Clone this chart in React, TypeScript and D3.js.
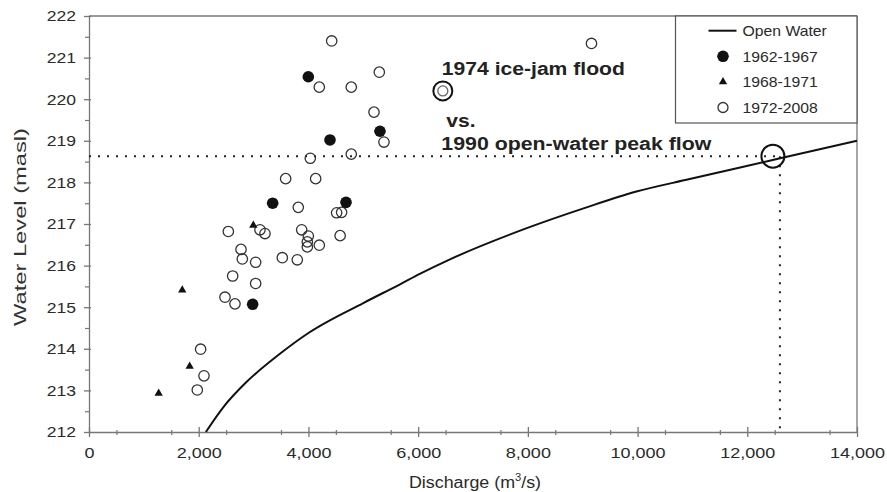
import React, { useEffect, useRef } from 'react';
import * as d3 from 'd3';

const W = 887;
const H = 492;

// open-water rating curve: discharge (m3/s) and water level (masl)
const openWaterQ = [2130, 2450, 2870, 3480, 4000, 5000, 5670, 6030, 6580, 7980, 9070, 9980, 10950, 11870, 12600, 14000];
const openWaterH = [212.0, 212.6, 213.2, 213.88, 214.38, 215.1, 215.55, 215.8, 216.15, 216.9, 217.4, 217.78, 218.08, 218.36, 218.58, 219.0];

// observed ice-jam levels
const obs6267Q = [3998, 4393, 5304, 3348, 4685, 2983];
const obs6267H = [220.54, 219.02, 219.23, 217.5, 217.52, 215.07];

const obs6871Q = [1270, 1700, 1835, 2995];
const obs6871H = [212.93, 215.41, 213.58, 216.97];

const obs7208Q = [
  4424, 5292, 4198, 4781, 5195, 5377, 4781, 4034, 3585, 4132, 3815, 4514, 4605, 2540, 3117, 3208, 3877, 3998,
  3980, 3980, 4198, 4578, 2771, 2795, 3038, 3524, 3797, 2619, 3038, 2479, 2661, 2035, 2096, 1974, 9160
];
const obs7208H = [
  221.4, 220.65, 220.29, 220.29, 219.69, 218.97, 218.68, 218.58, 218.09, 218.09, 217.4, 217.27, 217.28, 216.82,
  216.86, 216.77, 216.86, 216.71, 216.57, 216.45, 216.49, 216.72, 216.39, 216.16, 216.08, 216.19, 216.14, 215.75,
  215.57, 215.24, 215.08, 213.99, 213.35, 213.01, 221.34
];

const iceJam1974 = { q: 6450, h: 220.2 };
const peak1990 = { q: 12540, h: 218.63 };

const xTicks = [0, 2000, 4000, 6000, 8000, 10000, 12000, 14000];
const xMinor = d3.range(500, 14000, 1000);
const yTicks = [212, 213, 214, 215, 216, 217, 218, 219, 220, 221, 222];
const yMinor = d3.range(212.5, 222, 1);

const legendLabels = ['Open Water', '1962-1967', '1968-1971', '1972-2008'];

// stretch text horizontally so glyph widths match the wide original font
function stretch(sel: any, k: number) {
  sel.each(function (this: SVGTextElement) {
    const len = this.getComputedTextLength();
    this.setAttribute('textLength', String(len * k));
    this.setAttribute('lengthAdjust', 'spacingAndGlyphs');
  });
}

export default function App() {
  const ref = useRef<SVGSVGElement>(null);

  useEffect(() => {
    const svg = d3.select(ref.current);
    svg.selectAll('*').remove();

    const axisColor = '#777';
    const textColor = '#2a2a2a';

    const x = d3.scaleLinear().domain([0, 14000]).range([89, 857]);
    const y = d3.scaleLinear().domain([212, 222]).range([432, 16]);

    // frame (top + right)
    svg.append('line').attr('x1', x(0)).attr('x2', x(14000)).attr('y1', y(222)).attr('y2', y(222))
      .attr('stroke', axisColor).attr('stroke-width', 1.3);
    svg.append('line').attr('x1', x(14000)).attr('x2', x(14000)).attr('y1', y(222)).attr('y2', y(212))
      .attr('stroke', axisColor).attr('stroke-width', 1.3);

    // X axis
    const gxMinor = svg.append('g').attr('transform', `translate(0,${y(212)})`)
      .call(d3.axisBottom(x).tickValues(xMinor).tickSize(3).tickSizeOuter(0).tickFormat(() => ''));
    gxMinor.select('.domain').remove();
    gxMinor.selectAll('.tick line').attr('y1', -2).attr('stroke', axisColor).attr('stroke-width', 1.2);

    const gx = svg.append('g').attr('transform', `translate(0,${y(212)})`)
      .call(d3.axisBottom(x).tickValues(xTicks).tickSize(5).tickSizeOuter(0).tickPadding(10)
        .tickFormat((d: any) => d3.format(',')(d)));
    gx.select('.domain').attr('stroke', axisColor).attr('stroke-width', 1.3);
    gx.selectAll('.tick line').attr('y1', -5).attr('stroke', axisColor).attr('stroke-width', 1.3);
    const gxText = gx.selectAll('.tick text').attr('font-size', 15).attr('font-family', 'Arial, "Liberation Sans", sans-serif')
      .attr('fill', textColor);
    stretch(gxText, 1.2);

    // Y axis
    const gyMinor = svg.append('g').attr('transform', `translate(${x(0)},0)`)
      .call(d3.axisLeft(y).tickValues(yMinor).tickSize(4).tickSizeOuter(0).tickFormat(() => ''));
    gyMinor.select('.domain').remove();
    gyMinor.selectAll('.tick line').attr('stroke', axisColor).attr('stroke-width', 1.2);

    const gy = svg.append('g').attr('transform', `translate(${x(0)},0)`)
      .call(d3.axisLeft(y).tickValues(yTicks).tickSize(5).tickSizeOuter(0).tickPadding(8));
    gy.select('.domain').attr('stroke', axisColor).attr('stroke-width', 1.3);
    gy.selectAll('.tick line').attr('x1', 2).attr('stroke', axisColor).attr('stroke-width', 1.3);
    const gyText = gy.selectAll('.tick text').attr('font-size', 15).attr('font-family', 'Arial, "Liberation Sans", sans-serif')
      .attr('fill', textColor);
    stretch(gyText, 1.17);

    // axis titles
    svg.append('text')
      .attr('transform', `translate(26,${(y(212) + y(222)) / 2 + 3}) rotate(-90)`)
      .attr('text-anchor', 'middle').attr('font-size', 17).attr('fill', '#333')
      .attr('textLength', 198).attr('lengthAdjust', 'spacingAndGlyphs')
      .text('Water Level (masl)');

    const xt = svg.append('text')
      .attr('x', (x(0) + x(14000)) / 2 + 2).attr('y', 488)
      .attr('text-anchor', 'middle').attr('font-size', 16).attr('fill', textColor)
      .attr('textLength', 132).attr('lengthAdjust', 'spacingAndGlyphs');
    xt.append('tspan').text('Discharge (m');
    xt.append('tspan').attr('font-size', 10).attr('dy', -7).text('3');
    xt.append('tspan').attr('dy', 7).text('/s)');

    // dotted reference lines for the 1990 peak
    svg.append('line')
      .attr('x1', x(0)).attr('x2', x(peak1990.q)).attr('y1', y(peak1990.h)).attr('y2', y(peak1990.h))
      .attr('stroke', '#222').attr('stroke-width', 2).attr('stroke-dasharray', '2 7');
    svg.append('line')
      .attr('x1', x(peak1990.q) + 3).attr('x2', x(peak1990.q) + 3).attr('y1', y(peak1990.h)).attr('y2', y(212))
      .attr('stroke', '#222').attr('stroke-width', 2).attr('stroke-dasharray', '2 7');

    // open-water curve
    const curve = d3.line<number>()
      .x((_, i) => x(openWaterQ[i]))
      .y((d) => y(d))
      .curve(d3.curveMonotoneX);
    svg.append('path').attr('d', curve(openWaterH))
      .attr('fill', 'none').attr('stroke', '#111').attr('stroke-width', 2);

    // 1972-2008 open circles
    svg.append('g').selectAll('circle').data(obs7208H).join('circle')
      .attr('cx', (_, i) => x(obs7208Q[i])).attr('cy', (d) => y(d)).attr('r', 5.2)
      .attr('fill', 'none').attr('stroke', '#333').attr('stroke-width', 1.3);

    // 1962-1967 filled circles
    svg.append('g').selectAll('circle').data(obs6267H).join('circle')
      .attr('cx', (_, i) => x(obs6267Q[i])).attr('cy', (d) => y(d)).attr('r', 5.8)
      .attr('fill', '#111');

    // 1968-1971 triangles
    const tri = d3.symbol(d3.symbolTriangle, 30);
    svg.append('g').selectAll('path').data(obs6871H).join('path')
      .attr('transform', (d, i) => `translate(${x(obs6871Q[i])},${y(d)})`)
      .attr('d', tri()).attr('fill', '#111');

    // highlighted events
    const ijx = x(iceJam1974.q);
    const ijy = y(iceJam1974.h);
    svg.append('circle').attr('cx', ijx).attr('cy', ijy).attr('r', 9.5)
      .attr('fill', 'none').attr('stroke', '#111').attr('stroke-width', 2);
    svg.append('circle').attr('cx', ijx).attr('cy', ijy).attr('r', 5)
      .attr('fill', 'none').attr('stroke', '#666').attr('stroke-width', 1.3);

    svg.append('circle').attr('cx', x(peak1990.q) - 4).attr('cy', y(peak1990.h)).attr('r', 11.5)
      .attr('fill', 'none').attr('stroke', '#111').attr('stroke-width', 2);

    // annotation text
    const note = svg.append('g').attr('font-weight', 'bold').attr('font-size', 18).attr('fill', '#222');
    note.append('text').attr('x', ijx - 1).attr('y', ijy - 16)
      .attr('textLength', 183).attr('lengthAdjust', 'spacingAndGlyphs').text('1974 ice-jam flood');
    const vs = note.append('text').attr('x', ijx + 3.5).attr('y', ijy + 36.5).text('vs.');
    stretch(vs, 1.17);
    note.append('text').attr('x', ijx - 1.5).attr('y', ijy + 59)
      .attr('textLength', 270).attr('lengthAdjust', 'spacingAndGlyphs').text('1990 open-water peak flow');

    // legend
    const lx = 675.5;
    const ly = y(222);
    const lg = svg.append('g');
    lg.append('rect').attr('x', lx).attr('y', ly).attr('width', x(14000) - lx).attr('height', 107)
      .attr('fill', '#fff').attr('stroke', '#555').attr('stroke-width', 1.2);
    const rowY = (i: number) => ly + 14.7 + i * 25.6;
    lg.append('line').attr('x1', lx + 33).attr('x2', lx + 61).attr('y1', rowY(0)).attr('y2', rowY(0))
      .attr('stroke', '#111').attr('stroke-width', 2);
    lg.append('circle').attr('cx', lx + 47.5).attr('cy', rowY(1)).attr('r', 5.8).attr('fill', '#111');
    lg.append('path').attr('transform', `translate(${lx + 47.5},${rowY(2)})`).attr('d', tri()).attr('fill', '#111');
    lg.append('circle').attr('cx', lx + 47.5).attr('cy', rowY(3)).attr('r', 5).attr('fill', 'none')
      .attr('stroke', '#333').attr('stroke-width', 1.3);
    const lt = lg.selectAll('text.lab').data(legendLabels).join('text')
      .attr('class', 'lab')
      .attr('x', lx + 67).attr('y', (_, i) => rowY(i)).attr('dy', '0.36em')
      .attr('font-size', 15).attr('fill', textColor).text((d) => d);
    stretch(lt, 1.05);
  }, []);

  return (
    <svg
      ref={ref}
      width={W}
      height={H}
      style={{ position: 'absolute', left: 0, top: 0, background: '#fff', fontFamily: 'Arial, "Liberation Sans", sans-serif' }}
    />
  );
}
